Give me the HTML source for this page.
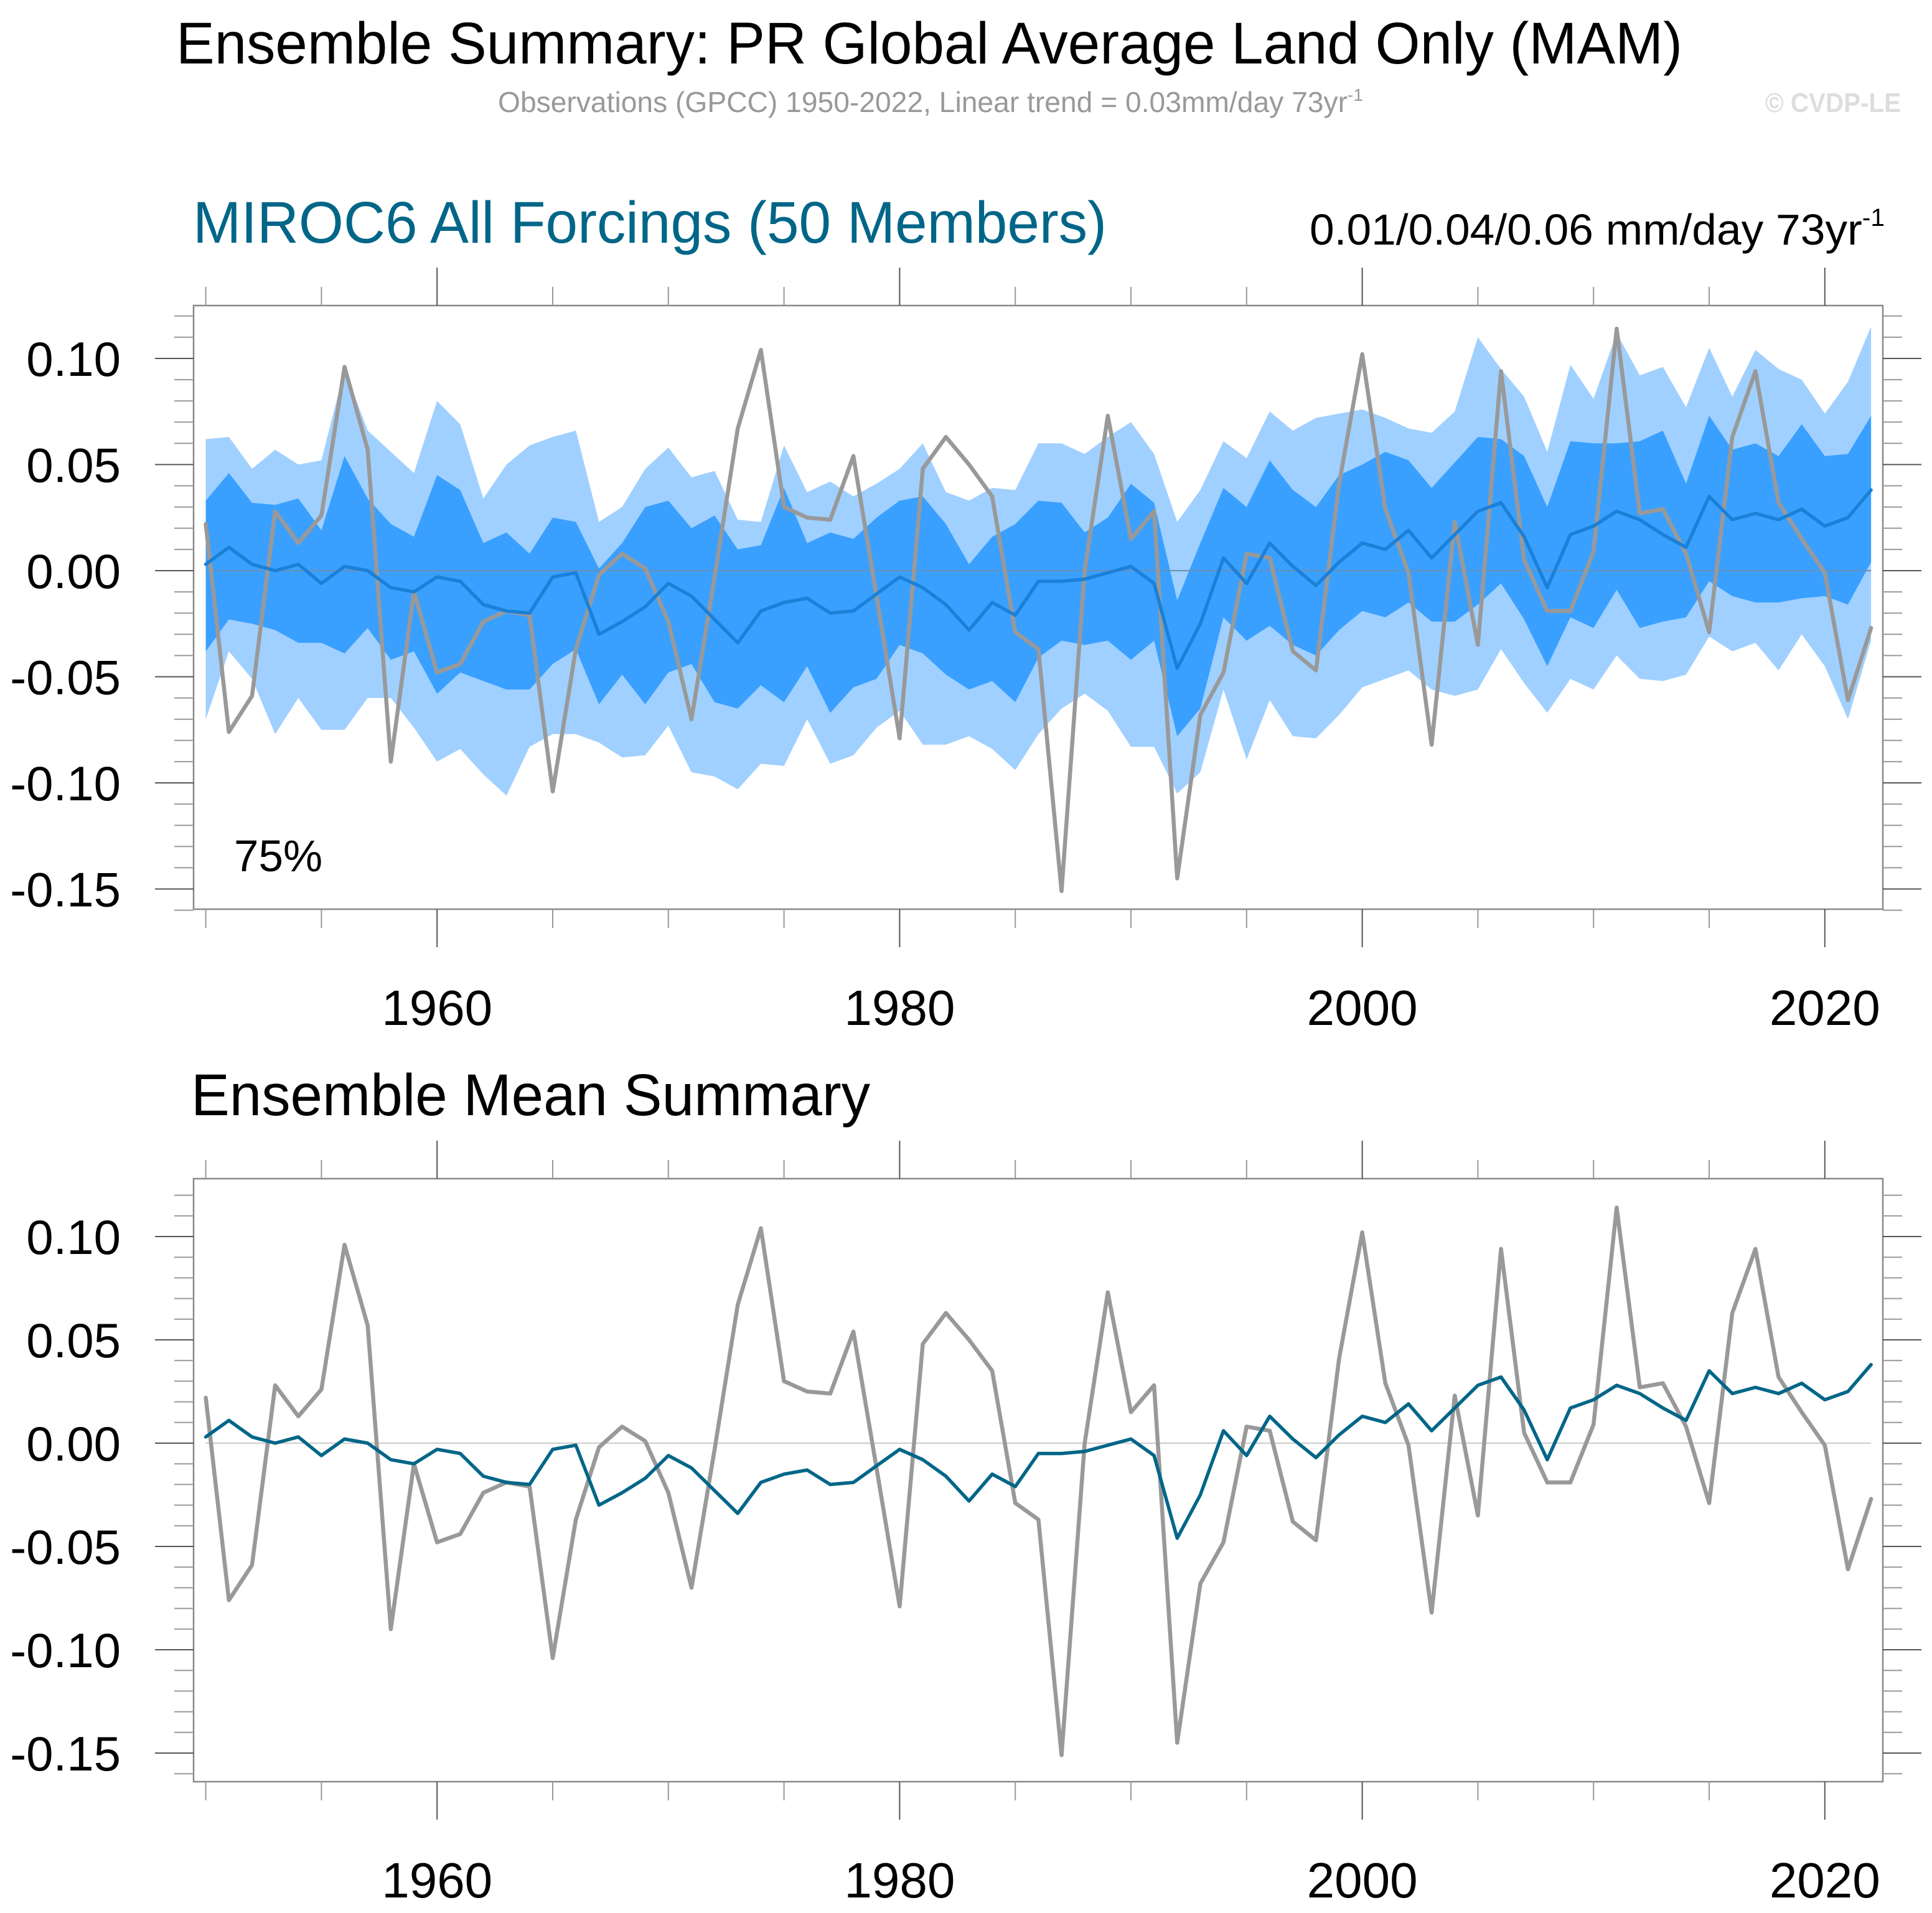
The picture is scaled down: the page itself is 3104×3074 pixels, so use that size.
<!DOCTYPE html>
<html><head><meta charset="utf-8"><style>
html,body{margin:0;padding:0;background:#fff}
svg{display:block}
text{font-family:"Liberation Sans",Arial,sans-serif}
</style></head><body>
<svg id="chart" width="3104" height="3074" viewBox="0 0 3104 3074" xmlns="http://www.w3.org/2000/svg">
<text x="283" y="102" font-size="95" textLength="2420" lengthAdjust="spacingAndGlyphs">Ensemble Summary: PR Global Average Land Only (MAM)</text>
<text x="800" y="180" font-size="46" fill="#999" textLength="1390" lengthAdjust="spacingAndGlyphs">Observations (GPCC) 1950-2022, Linear trend = 0.03mm/day 73yr<tspan dy="-18" font-size="28">-1</tspan></text>
<text x="2836" y="180" font-size="44" font-weight="bold" fill="#ddd" textLength="218" lengthAdjust="spacingAndGlyphs">© CVDP-LE</text>
<text x="310" y="390" font-size="95" fill="#006688" textLength="1468" lengthAdjust="spacingAndGlyphs">MIROC6 All Forcings (50 Members)</text>
<text x="2104" y="393" font-size="70" textLength="924" lengthAdjust="spacingAndGlyphs">0.01/0.04/0.06 mm/day 73yr<tspan dy="-30" font-size="40">-1</tspan></text>
<text x="376" y="1400" font-size="71">75%</text>
<text x="307" y="1792" font-size="95" textLength="1091" lengthAdjust="spacingAndGlyphs">Ensemble Mean Summary</text>
<g id="top"></g>
<g id="bot"></g>
</svg>
<script>
const years = [];
for (let y = 1950; y <= 2022; y++) years.push(y);
const obs = [0.022,-0.076,-0.059,0.028,0.013,0.026,0.096,0.057,-0.090,-0.010,-0.048,-0.044,-0.024,-0.019,-0.021,-0.104,-0.037,-0.002,0.008,0.001,-0.024,-0.070,-0.003,0.067,0.104,0.030,0.025,0.024,0.054,-0.012,-0.079,0.048,0.063,0.050,0.035,-0.029,-0.037,-0.151,0.000,0.073,0.015,0.028,-0.145,-0.068,-0.048,0.008,0.006,-0.038,-0.047,0.041,0.102,0.029,-0.001,-0.082,0.023,-0.035,0.094,0.005,-0.019,-0.019,0.009,0.114,0.027,0.029,0.008,-0.029,0.063,0.094,0.032,0.015,-0.001,-0.061,-0.027];
const ensMean = [0.003,0.011,0.003,0.000,0.003,-0.006,0.002,0.000,-0.008,-0.010,-0.003,-0.005,-0.016,-0.019,-0.020,-0.003,-0.001,-0.030,-0.024,-0.017,-0.006,-0.012,-0.023,-0.034,-0.019,-0.015,-0.013,-0.020,-0.019,-0.011,-0.003,-0.008,-0.016,-0.028,-0.015,-0.021,-0.005,-0.005,-0.004,-0.001,0.002,-0.006,-0.046,-0.025,0.006,-0.006,0.013,0.002,-0.007,0.004,0.013,0.010,0.019,0.006,0.017,0.028,0.032,0.016,-0.008,0.017,0.021,0.028,0.024,0.017,0.011,0.035,0.024,0.027,0.024,0.029,0.021,0.025,0.038];
const outerHi = [0.062,0.063,0.048,0.057,0.050,0.052,0.095,0.066,0.056,0.046,0.080,0.069,0.034,0.050,0.059,0.063,0.066,0.023,0.030,0.048,0.058,0.044,0.047,0.024,0.023,0.059,0.037,0.042,0.035,0.041,0.048,0.060,0.037,0.033,0.039,0.038,0.060,0.060,0.055,0.063,0.070,0.055,0.023,0.038,0.061,0.053,0.075,0.066,0.072,0.074,0.076,0.072,0.067,0.065,0.075,0.110,0.095,0.082,0.056,0.097,0.081,0.112,0.092,0.096,0.077,0.105,0.082,0.104,0.095,0.090,0.074,0.089,0.115];
const innerHi = [0.033,0.046,0.032,0.031,0.034,0.019,0.054,0.034,0.022,0.016,0.045,0.038,0.013,0.018,0.008,0.025,0.023,0.001,0.013,0.030,0.033,0.020,0.026,0.010,0.012,0.039,0.013,0.018,0.015,0.025,0.033,0.035,0.022,0.003,0.016,0.022,0.033,0.032,0.018,0.025,0.041,0.032,-0.014,0.013,0.039,0.030,0.052,0.038,0.030,0.045,0.050,0.056,0.052,0.039,0.051,0.063,0.062,0.054,0.030,0.061,0.060,0.060,0.061,0.066,0.041,0.073,0.057,0.060,0.054,0.069,0.054,0.055,0.073];
const innerLo = [-0.038,-0.023,-0.025,-0.028,-0.034,-0.034,-0.039,-0.027,-0.042,-0.038,-0.058,-0.048,-0.052,-0.056,-0.056,-0.044,-0.037,-0.063,-0.049,-0.063,-0.048,-0.044,-0.062,-0.065,-0.054,-0.062,-0.045,-0.067,-0.055,-0.051,-0.035,-0.039,-0.049,-0.056,-0.052,-0.062,-0.041,-0.033,-0.035,-0.033,-0.042,-0.033,-0.078,-0.065,-0.022,-0.033,-0.026,-0.035,-0.040,-0.028,-0.019,-0.022,-0.015,-0.024,-0.024,-0.016,-0.006,-0.023,-0.045,-0.022,-0.027,-0.009,-0.027,-0.024,-0.022,-0.005,-0.012,-0.015,-0.015,-0.013,-0.012,-0.016,0.004];
const outerLo = [-0.070,-0.038,-0.051,-0.077,-0.060,-0.075,-0.075,-0.060,-0.060,-0.074,-0.090,-0.084,-0.096,-0.106,-0.083,-0.077,-0.077,-0.081,-0.088,-0.087,-0.073,-0.095,-0.097,-0.103,-0.091,-0.092,-0.070,-0.091,-0.087,-0.074,-0.066,-0.082,-0.082,-0.078,-0.084,-0.094,-0.077,-0.065,-0.058,-0.066,-0.083,-0.083,-0.105,-0.095,-0.056,-0.089,-0.061,-0.078,-0.079,-0.068,-0.055,-0.051,-0.047,-0.056,-0.059,-0.056,-0.037,-0.053,-0.067,-0.051,-0.056,-0.040,-0.051,-0.052,-0.049,-0.031,-0.038,-0.034,-0.047,-0.030,-0.045,-0.070,-0.033];
const yTickLabels = ["0.10","0.05","0.00","-0.05","-0.10","-0.15"];
const yTickValues = [0.10,0.05,0.00,-0.05,-0.10,-0.15];
const xTickLabels = ["1960","1980","2000","2020"];
const xTickValues = [1960,1980,2000,2020];

const NS = "http://www.w3.org/2000/svg";
function mk(parent, tag, attrs) {
  const e = document.createElementNS(NS, tag);
  for (const k in attrs) e.setAttribute(k, attrs[k]);
  parent.appendChild(e);
  return e;
}
function panel(g, cfg) {
  const xs = v => 330.6 + (v - 1950) * 37.16;
  const ys = v => cfg.y0 - v * cfg.k;
  const L = 311, R = 3025, T = cfg.top, B = cfg.bottom;
  function poly(hi, lo, fill, name) {
    let pts = hi.map((v, i) => xs(years[i]) + "," + ys(v));
    for (let i = lo.length - 1; i >= 0; i--) pts.push(xs(years[i]) + "," + ys(lo[i]));
    const p = mk(g, "polygon", {points: pts.join(" "), fill: fill});
    
    
  }
  function line(arr, color, w, name) {
    const p = mk(g, "polyline", {points: arr.map((v, i) => xs(years[i]) + "," + ys(v)).join(" "), fill: "none", stroke: color, "stroke-width": w, "stroke-linejoin": "round", "stroke-linecap": "round"});
    
    
  }
  if (cfg.bands) {
    poly(outerHi, outerLo, "#a0d0ff", "outer-percentile-band");
    poly(innerHi, innerLo, "#3aa0ff", "inner-percentile-band");
  }
  const zl = mk(g, "line", {x1: xs(1950), x2: xs(2022), y1: ys(0), y2: ys(0), stroke: cfg.bands ? "#6a8fb0" : "#ccc", "stroke-width": 2});
  
  
  line(obs, "#999", 6.5, "observations-line");
  line(ensMean, cfg.bands ? "#1a80d8" : "#006688", 5.5, "ensemble-mean-line");
  const box = mk(g, "rect", {x: L, y: T, width: R - L, height: B - T, fill: "none", stroke: "#888", "stroke-width": 2.5});
  
  
  for (let i = -16; i <= 12; i++) {
    const v = i / 100, y = ys(v), major = (i % 5 === 0);
    const len = major ? 62 : 31, col = major ? "#555" : "#999";
    const t1 = mk(g, "line", {x1: L - len, x2: L, y1: y, y2: y, stroke: col, "stroke-width": 2});
    
    
    const t2 = mk(g, "line", {x1: R, x2: R + len, y1: y, y2: y, stroke: col, "stroke-width": 2});
    
    
  }
  yTickValues.forEach((v, i) => {
    const t = mk(g, "text", {x: 194, y: ys(v) + 28, "font-size": 78, "text-anchor": "end"});
    t.textContent = yTickLabels[i];
    
    
  });
  for (let yr = 1950; yr <= 2020; yr += 5) {
    const x = xs(yr), major = (yr % 20 === 0);
    const len = major ? 61 : 30, col = major ? "#555" : "#999";
    const a = mk(g, "line", {x1: x, x2: x, y1: T - len, y2: T, stroke: col, "stroke-width": 2});
    
    
    const b = mk(g, "line", {x1: x, x2: x, y1: B, y2: B + len, stroke: col, "stroke-width": 2});
    
    
  }
  xTickValues.forEach((v, i) => {
    const t = mk(g, "text", {x: xs(v), y: B + 186, "font-size": 80, "text-anchor": "middle"});
    t.textContent = xTickLabels[i];
    
    
  });
}
panel(document.getElementById("top"), {y0: 917, k: 3410, top: 491, bottom: 1461, bands: true});
panel(document.getElementById("bot"), {y0: 2319, k: 3320, top: 1894, bottom: 2863, bands: false});
</script>
</body></html>
